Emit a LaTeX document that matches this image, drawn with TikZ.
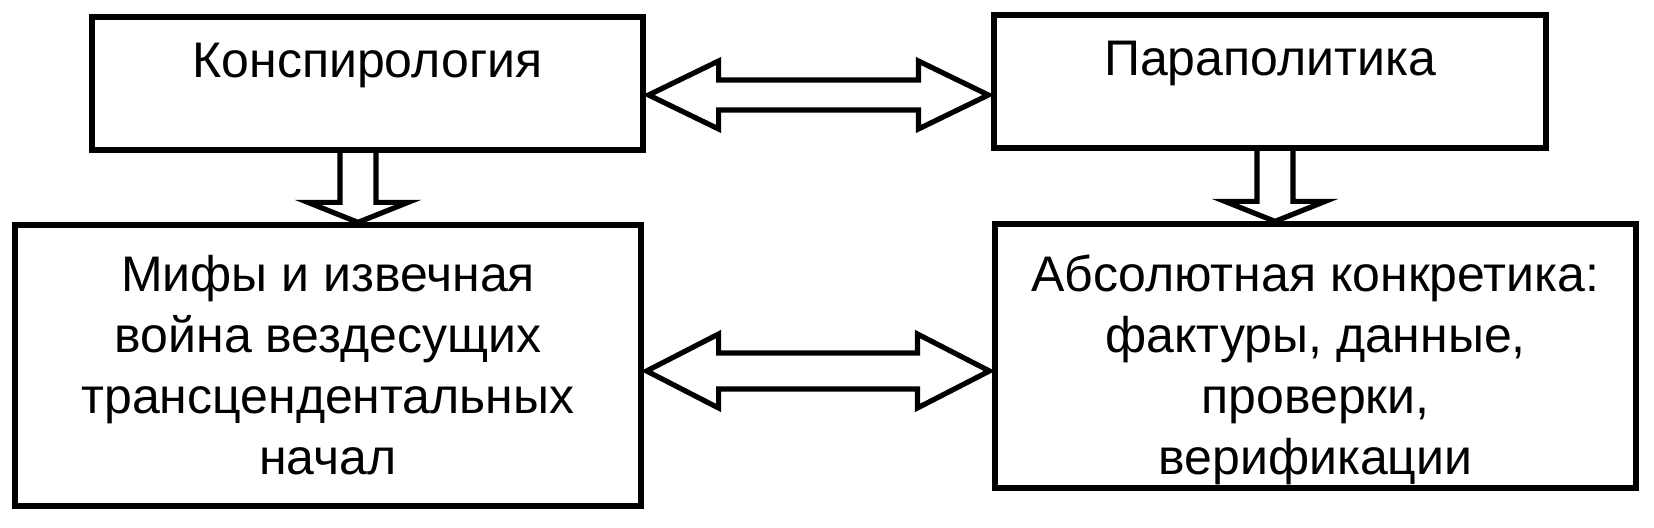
\documentclass[tikz,border=0pt]{standalone}
\usepackage{fontspec}
\setmainfont{Liberation Sans}
\usetikzlibrary{calc}

\begin{document}
\begin{tikzpicture}[x=0.5pt, y=-0.5pt,
  box/.style={draw, line width=2.6pt, inner sep=0pt, align=center,
    font=\fontsize{25}{30.5}\selectfont},
  hollow/.style={draw, line width=2.6pt, line join=miter}]
  \useasboundingbox (0,0) rectangle (1654,528);
  \node [box, minimum width=275.5pt, text height=30.5pt, text depth=36pt] (consp) at (367.5,83.5) {Конспирология};
  \node [box, minimum width=276pt, text height=30.5pt, text depth=36pt] (para) at (1270,81.5) {Параполитика};
  \node [box, minimum width=313pt, minimum height=140.5pt] (myths) at (328,365.5)
    {Мифы и извечная\\война вездесущих\\трансцендентальных\\начал};
  \node [box, minimum width=320.5pt, minimum height=132pt] (facts) at (1315.5,356)
    {\rule{0pt}{32pt}Абсолютная конкретика:\\фактуры, данные,\\проверки,\\верификации};
  % double arrows between the columns
  \draw [hollow] let \p1=([xshift=1.5pt,yshift=-5.75pt]consp.east), \p2=([xshift=-1.5pt]para.west) in
    (\p1) -- (\x1+35pt,\y1+17pt) -- (\x1+35pt,\y1+7.5pt) -- (\x2-35pt,\y1+7.5pt) -- (\x2-35pt,\y1+17pt)
    -- (\x2,\y1) -- (\x2-35pt,\y1-17pt) -- (\x2-35pt,\y1-7.5pt) -- (\x1+35pt,\y1-7.5pt) -- (\x1+35pt,\y1-17pt) -- cycle;
  \draw [hollow] let \p1=([xshift=1.5pt,yshift=-2.75pt]myths.east), \p2=([xshift=-1.5pt]facts.west) in
    (\p1) -- (\x1+36pt,\y1+18.5pt) -- (\x1+36pt,\y1+9pt) -- (\x2-36pt,\y1+9pt) -- (\x2-36pt,\y1+18.5pt)
    -- (\x2,\y1) -- (\x2-36pt,\y1-18.5pt) -- (\x2-36pt,\y1-9pt) -- (\x1+36pt,\y1-9pt) -- (\x1+36pt,\y1-18.5pt) -- cycle;
  % arrows downwards
  \draw [hollow] let \p1=([xshift=-4.75pt]consp.south), \p2=(myths.north) in
    (\x1-9pt,\y1) -- (\x1-9pt,\y2+10pt) -- (\x1-25pt,\y2+10pt) -- (\x1,\y2) -- (\x1+25pt,\y2+10pt) -- (\x1+9pt,\y2+10pt) -- (\x1+9pt,\y1);
  \draw [hollow] let \p1=([xshift=2.5pt]para.south), \p2=(facts.north) in
    (\x1-9pt,\y1) -- (\x1-9pt,\y2+10pt) -- (\x1-25pt,\y2+10pt) -- (\x1,\y2) -- (\x1+25pt,\y2+10pt) -- (\x1+9pt,\y2+10pt) -- (\x1+9pt,\y1);
\end{tikzpicture}
\end{document}
